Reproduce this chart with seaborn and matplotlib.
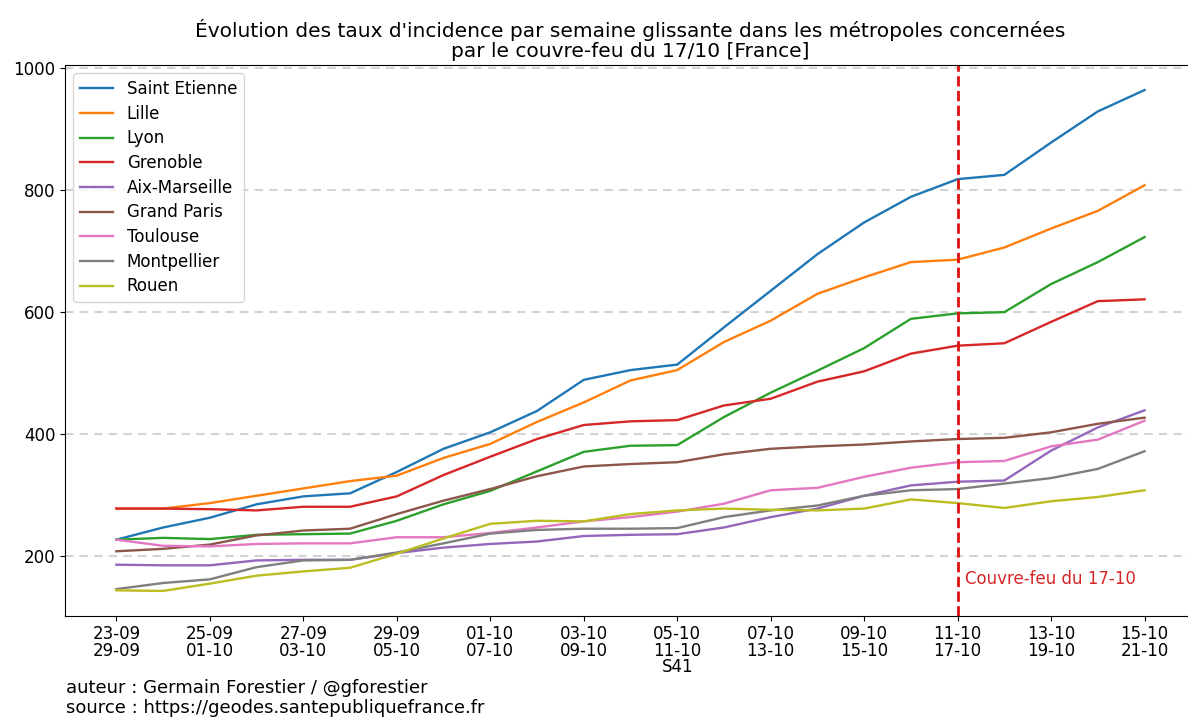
import numpy as np
import pandas as pd
import seaborn as sns
import matplotlib.pyplot as plt

# --- data (taux d'incidence, semaine glissante) ---
semaines = list(range(23))  # 23-09/29-09 ... 15-10/21-10
tick_labels = ['23-09\n29-09', '25-09\n01-10', '27-09\n03-10', '29-09\n05-10',
               '01-10\n07-10', '03-10\n09-10', '05-10\n11-10\nS41', '07-10\n13-10',
               '09-10\n15-10', '11-10\n17-10', '13-10\n19-10', '15-10\n21-10']

saint_etienne = [226, 246, 262, 284, 297, 302, 337, 375, 402, 437, 488, 504,
                 513, 574, 634, 694, 746, 788, 817, 824, 877, 928, 963]
lille = [277, 277, 286, 298, 310, 322, 331, 360, 383, 419, 451, 487,
         504, 550, 585, 629, 656, 681, 685, 705, 736, 765, 807]
lyon = [226, 229, 227, 234, 235, 236, 257, 284, 306, 338, 370, 380,
        381, 427, 467, 503, 540, 588, 597, 599, 645, 681, 722]
grenoble = [277, 277, 276, 274, 280, 280, 297, 332, 362, 391, 414, 420,
            422, 446, 457, 485, 502, 531, 544, 548, 583, 617, 620]
aix_marseille = [185, 184, 184, 192, 193, 193, 204, 213, 219, 223, 232, 234,
                 235, 246, 263, 277, 298, 315, 321, 323, 372, 410, 438]
grand_paris = [207, 211, 218, 233, 241, 244, 268, 290, 309, 330, 346, 350,
               353, 366, 375, 379, 382, 387, 391, 393, 402, 416, 426]
toulouse = [226, 216, 215, 219, 220, 220, 230, 230, 237, 246, 256, 263,
            272, 285, 307, 311, 329, 344, 353, 355, 379, 390, 421]
montpellier = [145, 155, 161, 181, 192, 193, 205, 220, 236, 242, 244, 244,
               245, 263, 274, 282, 298, 307, 309, 318, 327, 342, 371]
rouen = [143, 142, 154, 167, 174, 180, 203, 228, 252, 257, 256, 268,
         274, 277, 275, 274, 277, 292, 286, 278, 289, 296, 307]

villes = {
    'Saint Etienne': saint_etienne,
    'Lille': lille,
    'Lyon': lyon,
    'Grenoble': grenoble,
    'Aix-Marseille': aix_marseille,
    'Grand Paris': grand_paris,
    'Toulouse': toulouse,
    'Montpellier': montpellier,
    'Rouen': rouen,
}

couvre_feu_idx = 18  # 11-10 / 17-10

# long format for seaborn
frames = []
for nom, vals in villes.items():
    frames.append(pd.DataFrame({'semaine': semaines, 'taux': vals, 'ville': nom}))
df = pd.concat(frames, ignore_index=True)

fig = plt.figure(figsize=(11.88, 7.17), dpi=100)
ax = fig.add_axes([0.0547, 0.1409, 0.952, 0.7684])

sns.lineplot(data=df, x='semaine', y='taux', hue='ville', palette='tab10',
             linewidth=1.7, ax=ax)

ax.yaxis.grid(True, linestyle=(0, (4, 3)), color='lightgray', linewidth=1.5)
ax.set_axisbelow(True)

ax.axvline(couvre_feu_idx, color='#dd1111', linestyle='--', linewidth=2)
ax.text(couvre_feu_idx + 0.15, 162, 'Couvre-feu du 17-10', color='#d62728',
        fontsize=12, va='center')

ax.set_xticks(semaines[::2])
ax.set_xticklabels(tick_labels, fontsize=12)
for lab in ax.get_xticklabels():
    lab.set_linespacing(0.9)
ax.set_yticks([200, 400, 600, 800, 1000])
ax.tick_params(axis='y', labelsize=12)
ax.tick_params(axis='x', pad=3)
ax.set_xlabel('')
ax.set_ylabel('')

ax.legend(loc='upper left', fontsize=12, labelspacing=0.4)
ax.set_title("Évolution des taux d'incidence par semaine glissante dans les métropoles concernées\n"
             "par le couvre-feu du 17/10 [France]", fontsize=14.5, linespacing=1.05, pad=6)

fig.text(66 / 1188, 1 - 688 / 717, 'auteur : Germain Forestier / @gforestier',
         fontsize=13, va='center')
fig.text(66 / 1188, 1 - 708 / 717, 'source : https://geodes.santepubliquefrance.fr',
         fontsize=13, va='center')

fig.savefig('out.png', dpi=100)
